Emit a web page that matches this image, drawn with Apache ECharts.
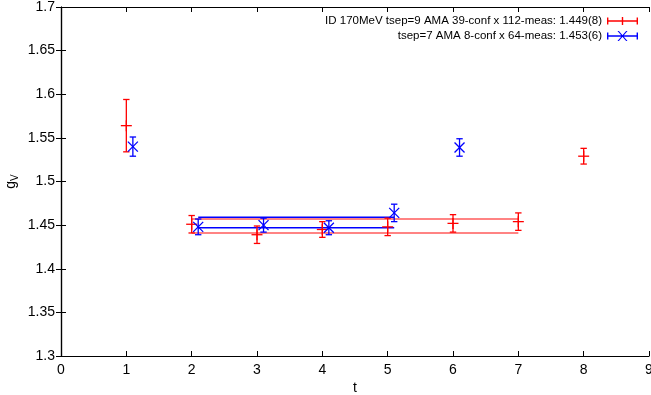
<!DOCTYPE html>
<html>
<head>
<meta charset="utf-8">
<script src="https://cdn.jsdelivr.net/npm/echarts@6/dist/echarts.min.js"></script>
<style>html,body{margin:0;padding:0;background:#fff;}#c{width:651px;height:395px;}</style>
</head>
<body>
<div id="c"></div>
<script>
// ---- data ----
const nameRed = 'ID 170MeV tsep=9 AMA 39-conf x 112-meas: 1.449(8)';
const nameBlue = 'tsep=7 AMA 8-conf x 64-meas: 1.453(6)';
const tRed = [1, 2, 3, 4, 5, 6, 7, 8];
const gRed = [1.564, 1.451, 1.439, 1.445, 1.448, 1.452, 1.454, 1.529];
const eRed = [0.030, 0.010, 0.010, 0.009, 0.010, 0.010, 0.010, 0.009];
const tBlue = [1.1, 2.1, 3.1, 4.1, 5.1, 6.1];
const gBlue = [1.540, 1.448, 1.450, 1.447, 1.464, 1.539];
const eBlue = [0.011, 0.009, 0.008, 0.008, 0.010, 0.010];
const fitRedT = [2, 7];
const fitRedVal = 1.449, fitRedErr = 0.008;
const fitBlueT = [2.1, 5.1];
const fitBlueVal = 1.453, fitBlueErr = 0.006;
const xTicks = [0, 1, 2, 3, 4, 5, 6, 7, 8, 9];
const yTicks = [1.3, 1.35, 1.4, 1.45, 1.5, 1.55, 1.6, 1.65, 1.7];

const RED = '#ff0000', BLUE = '#0000ff';
const FONT = 'Liberation Sans, Arial, Helvetica, sans-serif';

function pts(t, g, e) { return t.map((x, i) => [x, g[i], e[i]]); }

function errRender(marker, color) {
  return function (params, api) {
    const x = api.value(0), y = api.value(1), e = api.value(2);
    const c = api.coord([x, y]);
    const top = api.coord([x, y + e]);
    const bot = api.coord([x, y - e]);
    const cap = 3.2;
    const st = { stroke: color, lineWidth: 1.3, fill: null };
    const ch = [
      { type: 'line', shape: { x1: c[0], y1: top[1], x2: c[0], y2: bot[1] }, style: st },
      { type: 'line', shape: { x1: c[0] - cap, y1: top[1], x2: c[0] + cap, y2: top[1] }, style: st },
      { type: 'line', shape: { x1: c[0] - cap, y1: bot[1], x2: c[0] + cap, y2: bot[1] }, style: st }
    ];
    if (marker === 'plus') {
      const s = 5.5;
      ch.push({ type: 'line', shape: { x1: c[0] - s, y1: c[1], x2: c[0] + s, y2: c[1] }, style: st });
      ch.push({ type: 'line', shape: { x1: c[0], y1: c[1] - s, x2: c[0], y2: c[1] + s }, style: st });
    } else {
      const s = 5;
      ch.push({ type: 'line', shape: { x1: c[0] - s, y1: c[1] - s, x2: c[0] + s, y2: c[1] + s }, style: st });
      ch.push({ type: 'line', shape: { x1: c[0] - s, y1: c[1] + s, x2: c[0] + s, y2: c[1] - s }, style: st });
    }
    return { type: 'group', children: ch };
  };
}

function bandLine(t, v, color, w) {
  return {
    type: 'line', data: t.map(x => [x, v]), showSymbol: false, silent: true,
    lineStyle: { color: color, width: w }, itemStyle: { color: color }, z: 1
  };
}

const iconRed = 'path://M0,4.3h31v1.4h-31z M0,1.5h1.4v7h-1.4z M29.6,1.5h1.4v7h-1.4z M14.8,1h1.4v8h-1.4z M9.5,4.3h12v1.4h-12z';
const iconBlue = 'path://M0,4.3h31v1.4h-31z M0,1.5h1.4v7h-1.4z M29.6,1.5h1.4v7h-1.4z M10.5,0L11.9,0L20.5,10L19.1,10z M19.1,0L20.5,0L11.9,10L10.5,10z';

const axisCommon = {
  type: 'value',
  axisLine: { show: true, lineStyle: { color: '#000', width: 1.2 } },
  axisTick: { show: true, inside: true, length: 5, lineStyle: { color: '#000', width: 1 } },
  splitLine: { show: false }
};

const option = {
  animation: false,
  backgroundColor: '#fff',
  textStyle: { fontFamily: FONT },
  grid: { left: 61, right: 2, top: 7, bottom: 39, containLabel: false, outerBoundsMode: 'none' },
  legend: {
    orient: 'vertical', right: 13, top: 15, align: 'right', padding: 0,
    itemWidth: 31, itemHeight: 10, itemGap: 3,
    textStyle: { fontSize: 11.5, color: '#000', fontFamily: FONT },
    data: [{ name: nameRed, icon: iconRed }, { name: nameBlue, icon: iconBlue }],
    selectedMode: false
  },
  xAxis: [
    Object.assign({}, axisCommon, {
      min: xTicks[0], max: xTicks[xTicks.length - 1], interval: 1, position: 'bottom',
      name: 't', nameLocation: 'middle', nameGap: 25, nameMoveOverlap: false,
      nameTextStyle: { fontSize: 14, color: '#000', fontFamily: FONT },
      axisLabel: { fontSize: 14, color: '#000', margin: 7, fontFamily: FONT }
    }),
    Object.assign({}, axisCommon, {
      min: xTicks[0], max: xTicks[xTicks.length - 1], interval: 1, position: 'top',
      axisLabel: { show: false }
    })
  ],
  yAxis: [
    Object.assign({}, axisCommon, {
      min: yTicks[0], max: yTicks[yTicks.length - 1], interval: 0.05, position: 'left',
      name: '{g|g}{v|V}', nameLocation: 'middle', nameGap: 41, nameRotate: 90, nameMoveOverlap: false,
      nameTextStyle: {
        color: '#000', fontFamily: FONT,
        rich: { g: { fontSize: 14, fontFamily: FONT, color: '#000' }, v: { fontSize: 10, fontFamily: FONT, color: '#000', padding: [7, 0, 0, 0] } }
      },
      axisLabel: { fontSize: 14, color: '#000', margin: 6, fontFamily: FONT, formatter: v => String(+v.toFixed(2)) }
    }),
    Object.assign({}, axisCommon, {
      min: yTicks[0], max: yTicks[yTicks.length - 1], interval: 0.05, position: 'right',
      axisLabel: { show: false }
    })
  ],
  series: [
    bandLine(fitRedT, fitRedVal + fitRedErr, 'rgba(255,60,60,0.85)', 1.7),
    bandLine(fitRedT, fitRedVal - fitRedErr, 'rgba(255,60,60,0.85)', 1.7),
    bandLine(fitBlueT, fitBlueVal + fitBlueErr, BLUE, 1.5),
    bandLine(fitBlueT, fitBlueVal - fitBlueErr, BLUE, 1.5),
    {
      name: nameRed, type: 'custom', renderItem: errRender('plus', RED),
      data: pts(tRed, gRed, eRed), itemStyle: { color: RED }, encode: { x: 0, y: 1 }, z: 3
    },
    {
      name: nameBlue, type: 'custom', renderItem: errRender('cross', BLUE),
      data: pts(tBlue, gBlue, eBlue), itemStyle: { color: BLUE }, encode: { x: 0, y: 1 }, z: 4
    }
  ]
};

const chart = echarts.init(document.getElementById('c'), null, { renderer: 'canvas' });
chart.setOption(option);
</script>
</body>
</html>
